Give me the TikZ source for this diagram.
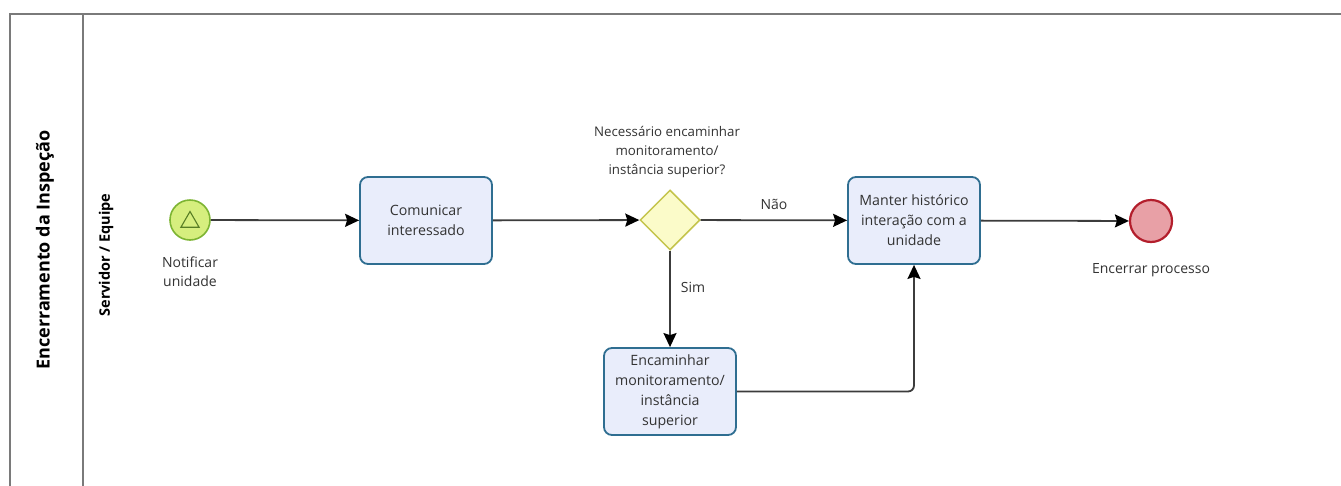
\documentclass[tikz,border=0pt]{standalone}
\usepackage{fontspec}
\setmainfont{Open Sans}
\usetikzlibrary{arrows.meta,shapes.geometric}
\definecolor{poolgray}{HTML}{7A7A7A}
\definecolor{flowgray}{HTML}{3C3C3C}
\definecolor{txtgray}{HTML}{333333}
\definecolor{taskfill}{HTML}{E9EDFB}
\definecolor{taskdraw}{HTML}{2F6E91}
\definecolor{startfill}{HTML}{D6EE7E}
\definecolor{startdraw}{HTML}{7DB433}
\definecolor{gwfill}{HTML}{FBFBC9}
\definecolor{gwdraw}{HTML}{C4C44C}
\definecolor{endfill}{HTML}{E8A0A6}
\definecolor{enddraw}{HTML}{B31E2C}
\begin{document}
\begin{tikzpicture}[x=1pt,y=-1pt,
  poolline/.style={draw=poolgray,line width=1.5pt},
  lbl/.style={text=txtgray,font=\fontsize{14}{19}\selectfont,align=center,inner sep=0pt},
  task/.style={draw=taskdraw,fill=taskfill,line width=1.8pt,rounded corners=8pt,
    minimum width=132pt,minimum height=87pt,align=center,inner sep=1pt,
    text=txtgray,font=\fontsize{14.2}{20}\selectfont},
  flow/.style={draw=flowgray,line width=1.8pt,
    -{Stealth[length=14pt,width=13pt,inset=2pt,color=black]}}]
\useasboundingbox (0,0) rectangle (1341,485);
\fill[white] (0,0) rectangle (1341,485);

% pool and lane frame
\draw[poolline] (1350,14) -- (10,14) -- (10,495);
\draw[poolline] (83,14) -- (83,495);
\node[rotate=90,text=black,font=\bfseries\fontsize{18}{22}\selectfont] (pool) at (45,250) {Encerramento da Inspeção};
\node[rotate=90,text=black,font=\bfseries\fontsize{14.5}{18}\selectfont] (lane) at (106,255) {Servidor / Equipe};

% start event
\node[circle,minimum size=40pt,inner sep=0pt,fill=startfill,draw=startdraw,line width=1.6pt] (start) at (190,220) {};
\node[regular polygon,regular polygon sides=3,minimum size=21pt,inner sep=0pt,draw=startdraw!70!black,line width=1.1pt] (startmark) at (190,222) {};
\node[lbl] (startlbl) at (190,272) {Notificar\\unidade};

% tasks
\node[task] (t1) at (426,220.5) {Comunicar\\interessado};
\node[task] (t2) at (670,391.5) {Encaminhar\\monitoramento/\\instância\\superior};
\node[task] (t3) at (914,220.5) {Manter histórico\\interação com a\\unidade};

% gateway
\node[diamond,minimum width=60pt,minimum height=60pt,inner sep=0pt,fill=gwfill,draw=gwdraw,line width=1.5pt] (gw) at (670,220) {};
\node[lbl,font=\fontsize{13.3}{19}\selectfont] (gwlbl) at (667,152) {Necessário encaminhar\\monitoramento/\\instância superior?};

% end event
\node[circle,minimum size=42pt,inner sep=0pt,fill=endfill,draw=enddraw,line width=2.2pt] (end) at (1151,221) {};
\node[lbl] (endlbl) at (1151,270) {Encerrar processo};

% sequence flows
\draw[flow] (start) -- (t1);
\draw[flow] (t1) -- (gw);
\draw[flow] (gw) -- node[lbl,above=10pt,pos=0.5] (nao) {Não} (t3);
\draw[flow] (gw) -- node[lbl,right=10pt,pos=0.38] (sim) {Sim} (t2);
\draw[flow] (t3) -- (end);
\draw[flow,rounded corners=6pt] (t2.east) -| (t3.south);
\end{tikzpicture}
\end{document}
